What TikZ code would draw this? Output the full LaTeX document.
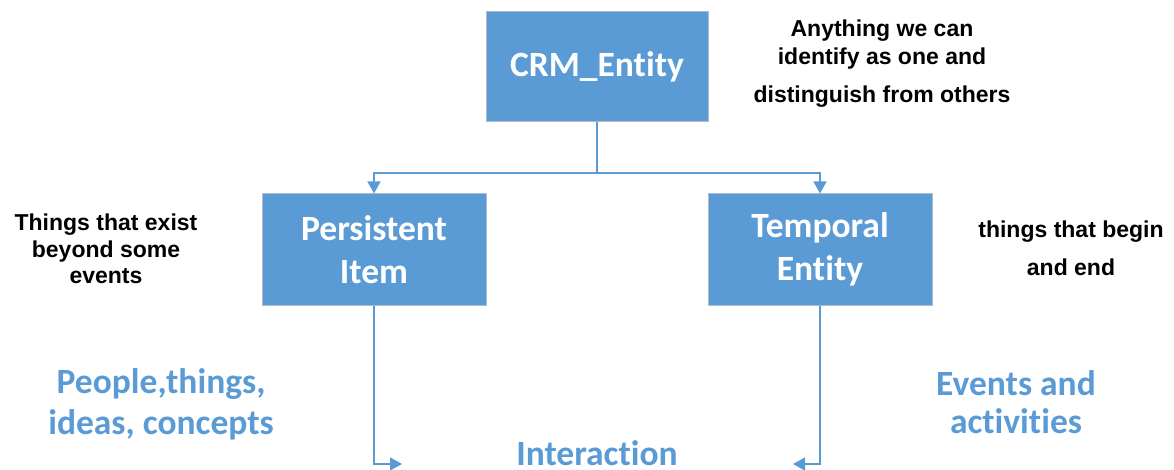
\documentclass[tikz,border=0pt]{standalone}
\usepackage{fontspec}
\setmainfont{Liberation Sans}
\newfontfamily\carlito[Ligatures=NoCommon]{Carlito}
\usetikzlibrary{arrows.meta}
\definecolor{boxblue}{HTML}{5B9BD5}
\definecolor{boxedge}{HTML}{A9BCD0}
\begin{document}
\begin{tikzpicture}[x=1pt,y=-1pt,
  entity/.style={draw=boxedge, line width=1pt, fill=boxblue, text=white,
    font=\carlito\bfseries\fontsize{35.5}{43}\selectfont, align=center,
    minimum width=222pt, minimum height=110pt, inner sep=0pt},
  note/.style={font=\bfseries\fontsize{23}{27}\selectfont, anchor=base},
  bluenote/.style={text=boxblue, font=\carlito\bfseries\fontsize{35.5}{41}\selectfont, anchor=base},
  link/.style={draw=boxblue, line width=1.5pt},
  linkarrow/.style={link, -{Triangle[width=13pt,length=12pt]}}
]
\useasboundingbox (0,0) rectangle (1174,470);
% boxes
\node[entity] (crm) at (597,67) {CRM\_Entity};
\node[entity, minimum width=224pt, minimum height=111pt] (pers) at (374,249.5) {Persistent\\Item};
\node[entity, minimum width=224pt, minimum height=111pt] (temp) at (820,249.5) {Temporal\\Entity};
% connectors
\coordinate (split) at (597,173);
\draw[link] (crm.south) -- (split);
\draw[linkarrow] (split) -| (pers.north);
\draw[linkarrow] (split) -| (temp.north);
\coordinate (interL) at (402,464);
\coordinate (interR) at (793,464);
\draw[linkarrow] (pers.south) |- (interL);
\draw[linkarrow] (temp.south) |- (interR);
% interaction
\node[bluenote] (inter) at (597,465) {Interaction};
% black notes
\node[note] (any1) at (882,37) {Anything we can};
\node[note] (any2) at (882,65) {identify as one and};
\node[note] (any3) at (882,103) {distinguish from others};
\node[note] (thg1) at (106,230) {Things that exist};
\node[note] (thg2) at (106,257) {beyond some};
\node[note] (thg3) at (106,283) {events};
\node[note] (beg1) at (1071,237) {things that begin};
\node[note] (beg2) at (1071,275) {and end};
% blue notes
\node[bluenote] (ppl1) at (161,393) {People,things,};
\node[bluenote] (ppl2) at (161,434) {ideas, concepts};
\node[bluenote] (evt1) at (1016,395) {Events and};
\node[bluenote] (evt2) at (1016,433) {activities};
\end{tikzpicture}
\end{document}
